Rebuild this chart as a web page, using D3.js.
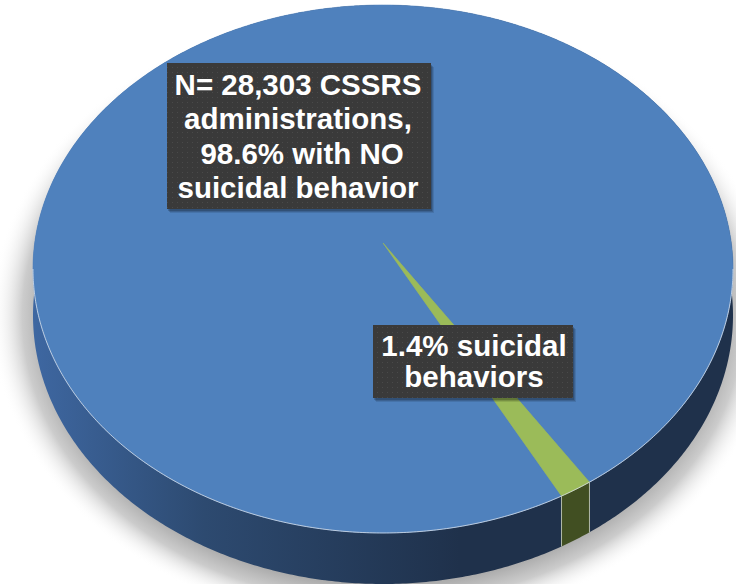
<!DOCTYPE html>
<html>
<head>
<meta charset="utf-8">
<script src="https://cdn.jsdelivr.net/npm/d3@7/dist/d3.min.js"></script>
<style>
  html, body { margin: 0; padding: 0; background: #ffffff; }
  svg { display: block; }
  text { font-family: "Liberation Sans", Arial, sans-serif; font-weight: bold; }
</style>
</head>
<body>
<div id="chart"></div>
<script>
// ---- data ----
const categories = ["No suicidal behavior", "Suicidal behaviors"];
const values = [98.6, 1.4];
const topColors = ["#4f81bd", "#9bbb59"];
const sideColors = ["url(#sideGrad)", "#414f22"];
const label1Lines = ["N= 28,303 CSSRS", "administrations,", " 98.6% with NO", "suicidal behavior"];
const label2Lines = ["1.4% suicidal", "behaviors"];

// ---- layout ----
const W = 736, H = 584;
const cx = 383, cy = 243;         // projected pie centre
const A = 348.3, B = 261.4;       // projected radii factors
const k = 0.0985;                 // perspective strength
const depth = 46;                 // wall height
const startDeg = 152.1;

const svg = d3.select("#chart").append("svg").attr("width", W).attr("height", H);
const defs = svg.append("defs");

const sg = defs.append("linearGradient").attr("id", "sideGrad")
  .attr("gradientUnits", "userSpaceOnUse").attr("x1", 34).attr("x2", 460).attr("y1", 0).attr("y2", 0);
sg.append("stop").attr("offset", 0).attr("stop-color", "#3e67a1");
sg.append("stop").attr("offset", 0.4).attr("stop-color", "#2d4a70");
sg.append("stop").attr("offset", 1).attr("stop-color", "#1f314b");

const rg = defs.append("radialGradient").attr("id", "shadowGrad")
  .attr("cx", "50%").attr("cy", "50%").attr("r", "50%");
rg.append("stop").attr("offset", 0.84).attr("stop-color", "#9e9e9e").attr("stop-opacity", 1);
rg.append("stop").attr("offset", 0.92).attr("stop-color", "#c6c6c6").attr("stop-opacity", 0.9);
rg.append("stop").attr("offset", 1).attr("stop-color", "#ffffff").attr("stop-opacity", 0);

const pat = defs.append("pattern").attr("id", "dots").attr("width", 5).attr("height", 5)
  .attr("patternUnits", "userSpaceOnUse");
pat.append("rect").attr("width", 5).attr("height", 5).attr("fill", "#3a3a3a");
pat.append("rect").attr("x", 2).attr("y", 2).attr("width", 1).attr("height", 1).attr("fill", "#4a4a4a");

// perspective projection of a point on the disc rim (d3 angle: 0 at 12 o'clock, clockwise)
function proj(a, drop) {
  const u = Math.sin(a), v = -Math.cos(a), w = 1 - k * v;
  return [cx + A * u / w, cy + (B * v + drop) / w];
}
function arcPts(a0, a1, drop) {
  const n = Math.max(2, Math.ceil(Math.abs(a1 - a0) / (Math.PI / 360)));
  return d3.range(n + 1).map(i => proj(a0 + (a1 - a0) * i / n, drop));
}
const lineGen = d3.line();

const pie = d3.pie().sort(null)
  .startAngle(startDeg * Math.PI / 180)
  .endAngle(startDeg * Math.PI / 180 + 2 * Math.PI);
const arcs = pie(values);

const aL = Math.acos(-k), aR = 2 * Math.PI - Math.acos(-k);

// ---- soft shadow ----
svg.append("ellipse")
  .attr("cx", cx).attr("cy", 316).attr("rx", 392).attr("ry", 312)
  .attr("fill", "url(#shadowGrad)");

// ---- side walls ----
const sideG = svg.append("g");
arcs.forEach((d, i) => {
  const topPts = arcPts(d.startAngle, d.endAngle, 0);
  const botPts = arcPts(d.endAngle, d.startAngle, depth);
  sideG.append("path").attr("d", lineGen(topPts.concat(botPts)) + "Z")
    .attr("fill", sideColors[i]);
});
// light edges on the green wall
const gArc = arcs[1];
[gArc.startAngle, gArc.endAngle].forEach(a => {
  const p0 = proj(a, 0), p1 = proj(a, depth);
  sideG.append("line").attr("x1", p0[0]).attr("y1", p0[1]).attr("x2", p1[0]).attr("y2", p1[1])
    .attr("stroke", "#c9d1c0").attr("stroke-width", 1).attr("stroke-opacity", 0.8);
});

// ---- top faces ----
const topG = svg.append("g");
arcs.forEach((d, i) => {
  const pts = [[cx, cy]].concat(arcPts(d.startAngle, d.endAngle, 0));
  topG.append("path").attr("d", lineGen(pts) + "Z")
    .attr("fill", topColors[i])
    .attr("stroke", topColors[i]).attr("stroke-width", 0.6)
    .attr("stroke-linejoin", "round");
});
// rim highlight on the front edge
topG.append("path").attr("d", lineGen(arcPts(aL, aR, 0)))
  .attr("fill", "none").attr("stroke", "#dfe6ef").attr("stroke-width", 1).attr("stroke-opacity", 0.75);

// ---- labels ----
function label(lines, x, y, w, h, tx, firstBase, step) {
  const gL = svg.append("g");
  [[4, 0.10], [3, 0.14], [2, 0.18]].forEach(([o, op]) => {
    gL.append("rect").attr("x", x + o - 1).attr("y", y + o).attr("width", w).attr("height", h)
      .attr("fill", "#000").attr("fill-opacity", op);
  });
  gL.append("rect").attr("x", x).attr("y", y).attr("width", w).attr("height", h)
    .attr("fill", "url(#dots)");
  lines.forEach((t, i) => {
    gL.append("text").attr("x", tx).attr("y", firstBase + i * step)
      .attr("text-anchor", "middle").attr("fill", "#ffffff")
      .attr("font-size", 29.5).style("white-space", "pre")
      .text(t);
  });
}
label(label1Lines, 167, 63, 264, 146, 298, 95, 34.3);
label(label2Lines, 373, 325, 200, 73, 474, 356, 31);
</script>
</body>
</html>
